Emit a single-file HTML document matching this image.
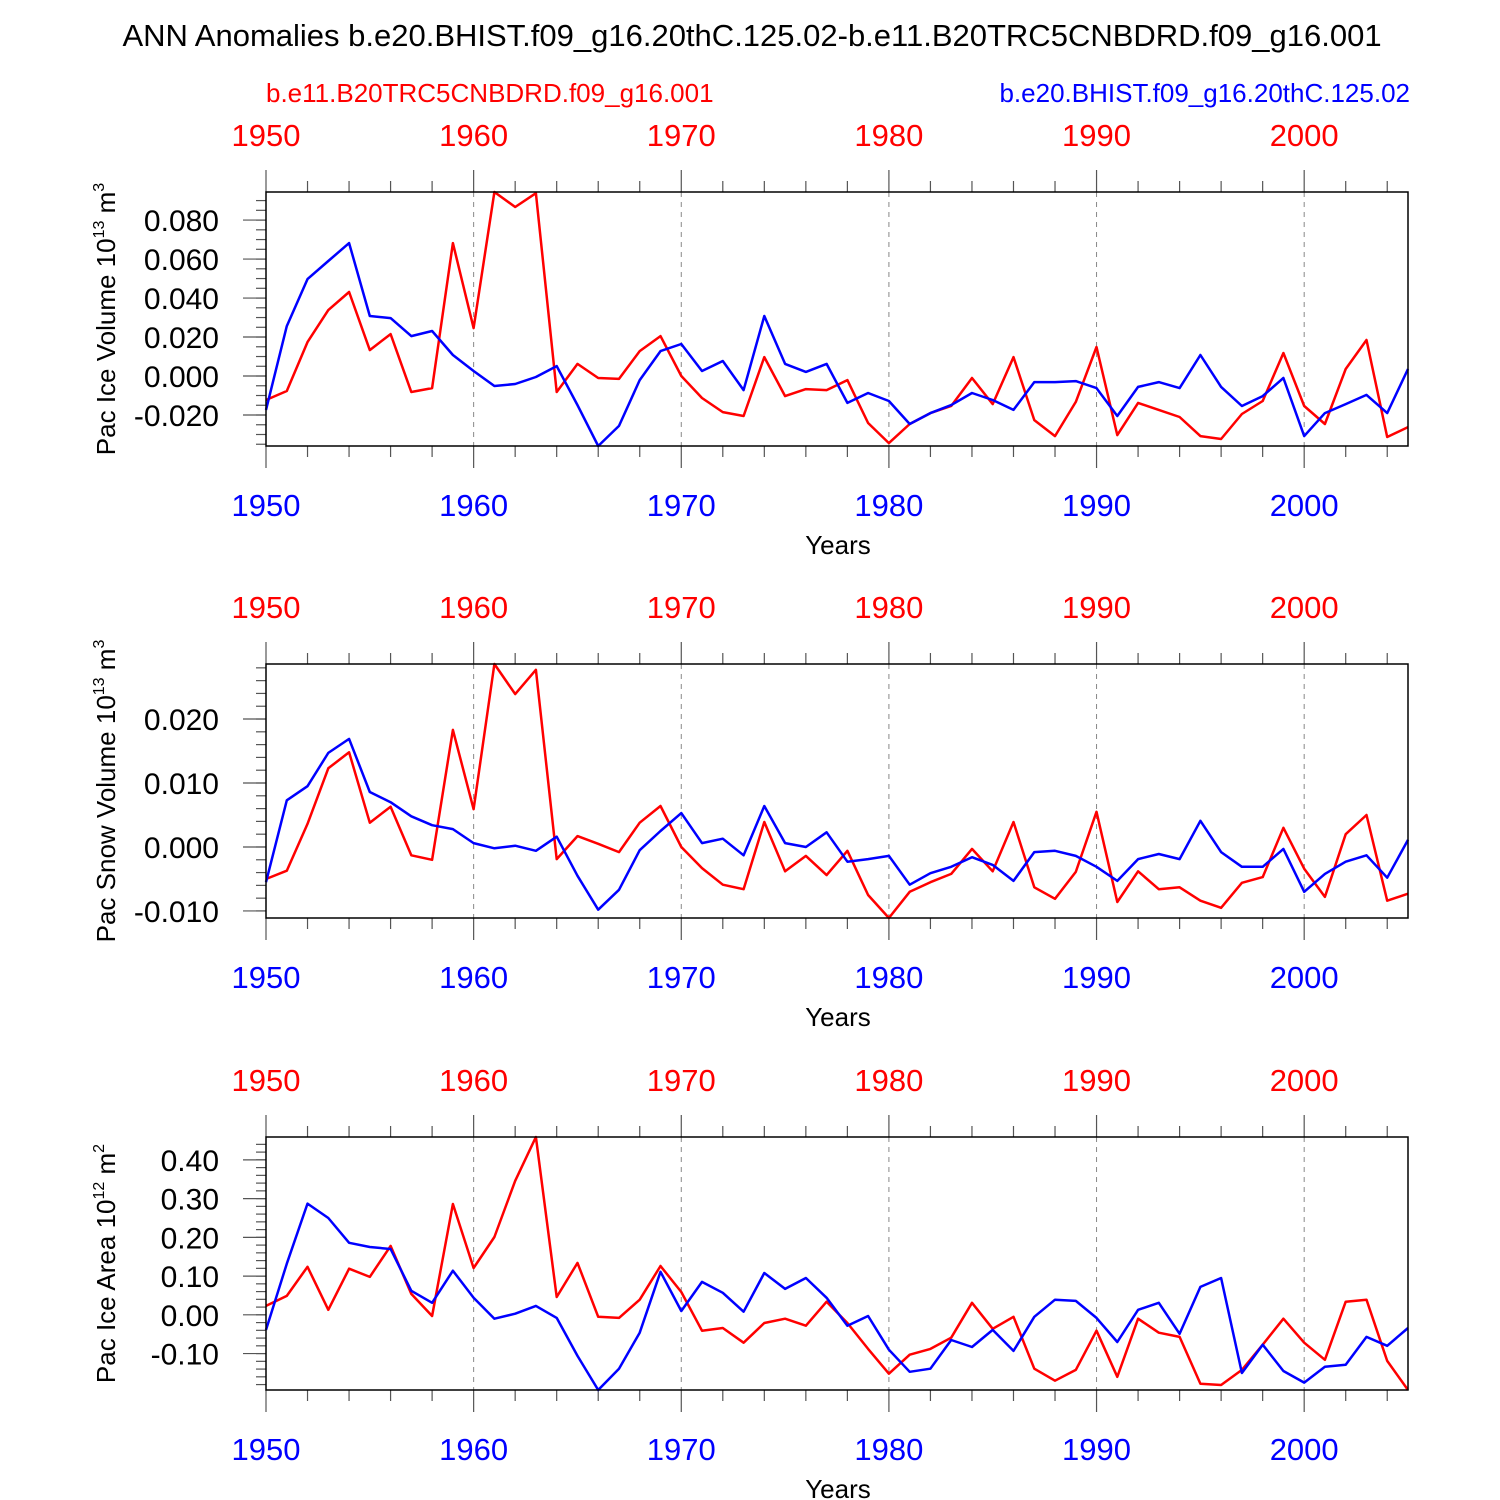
<!DOCTYPE html>
<html><head><meta charset="utf-8"><style>
html,body{margin:0;padding:0;background:#fff;}
svg{display:block;font-family:"Liberation Sans",sans-serif;}
</style></head><body>
<svg id="chart" width="1500" height="1500" viewBox="0 0 1500 1500" xmlns="http://www.w3.org/2000/svg">
<rect width="1500" height="1500" fill="#fff"/>
<text x="752" y="46" font-size="31" text-anchor="middle">ANN Anomalies b.e20.BHIST.f09_g16.20thC.125.02-b.e11.B20TRC5CNBDRD.f09_g16.001</text>
<text x="266" y="102" font-size="26" fill="#f00">b.e11.B20TRC5CNBDRD.f09_g16.001</text>
<text x="1410" y="102" font-size="26" fill="#00f" text-anchor="end">b.e20.BHIST.f09_g16.20thC.125.02</text>
<g id="panels"></g>
</svg>
<script>
const years = [];
for (let y = 1950; y <= 2005; y++) years.push(y);
const iceVolRed = [-0.0123,-0.0077,0.0174,0.0338,0.0431,0.0133,0.0215,-0.0082,-0.0062,0.0682,0.0246,0.0944,0.0867,0.0938,-0.0082,0.0062,-0.0010,-0.0015,0.0128,0.0205,0,-0.0113,-0.0185,-0.0205,0.0097,-0.0103,-0.0067,-0.0072,-0.0021,-0.0241,-0.0344,-0.0246,-0.0190,-0.0154,-0.0010,-0.0144,0.0097,-0.0226,-0.0308,-0.0133,0.0149,-0.0303,-0.0138,-0.0174,-0.0210,-0.0308,-0.0323,-0.0195,-0.0128,0.0118,-0.0154,-0.0246,0.0036,0.0185,-0.0313,-0.0262];
const iceVolBlue = [-0.0174,0.0256,0.0497,0.0590,0.0682,0.0308,0.0297,0.0205,0.0231,0.0108,0.0026,-0.0051,-0.0041,-0.0005,0.0051,-0.0149,-0.0359,-0.0256,-0.0021,0.0128,0.0164,0.0026,0.0077,-0.0072,0.0308,0.0062,0.0021,0.0062,-0.0138,-0.0087,-0.0128,-0.0246,-0.0190,-0.0149,-0.0087,-0.0123,-0.0174,-0.0031,-0.0031,-0.0026,-0.0062,-0.0205,-0.0056,-0.0031,-0.0062,0.0108,-0.0056,-0.0154,-0.0103,-0.0010,-0.0308,-0.0190,-0.0144,-0.0097,-0.0190,0.0036];
const snowVolRed = [-0.0050,-0.0037,0.0036,0.0123,0.0148,0.0038,0.0063,-0.0013,-0.0020,0.0183,0.0059,0.0286,0.0239,0.0277,-0.0019,0.0017,0.0005,-0.0008,0.0038,0.0064,0,-0.0033,-0.0059,-0.0066,0.0039,-0.0038,-0.0014,-0.0044,-0.0006,-0.0075,-0.0111,-0.0070,-0.0055,-0.0042,-0.0003,-0.0038,0.0039,-0.0063,-0.0081,-0.0039,0.0055,-0.0086,-0.0038,-0.0066,-0.0063,-0.0084,-0.0095,-0.0056,-0.0047,0.0030,-0.0034,-0.0078,0.0020,0.0050,-0.0084,-0.0073];
const snowVolBlue = [-0.0055,0.0073,0.0095,0.0147,0.0169,0.0086,0.0070,0.0048,0.0034,0.0028,0.0006,-0.0002,0.0002,-0.0006,0.0016,-0.0045,-0.0098,-0.0067,-0.0005,0.0025,0.0053,0.0006,0.0013,-0.0013,0.0064,0.0006,0,0.0023,-0.0023,-0.0019,-0.0014,-0.0059,-0.0041,-0.0031,-0.0016,-0.0028,-0.0053,-0.0008,-0.0006,-0.0014,-0.0031,-0.0053,-0.0019,-0.0011,-0.0019,0.0041,-0.0008,-0.0031,-0.0031,-0.0003,-0.0070,-0.0042,-0.0023,-0.0013,-0.0048,0.0011];
const iceAreaRed = [0.023,0.049,0.124,0.013,0.119,0.098,0.178,0.054,-0.003,0.286,0.121,0.201,0.346,0.459,0.046,0.134,-0.005,-0.008,0.039,0.126,0.059,-0.041,-0.034,-0.072,-0.021,-0.010,-0.028,0.034,-0.021,-0.088,-0.152,-0.103,-0.088,-0.059,0.031,-0.036,-0.005,-0.139,-0.170,-0.142,-0.041,-0.160,-0.010,-0.046,-0.057,-0.178,-0.181,-0.142,-0.077,-0.010,-0.072,-0.116,0.034,0.039,-0.119,-0.194];
const iceAreaBlue = [-0.039,0.132,0.287,0.250,0.186,0.175,0.170,0.062,0.031,0.114,0.044,-0.010,0.003,0.023,-0.008,-0.106,-0.194,-0.139,-0.046,0.111,0.010,0.085,0.057,0.008,0.108,0.067,0.095,0.044,-0.028,-0.003,-0.090,-0.147,-0.139,-0.065,-0.083,-0.039,-0.093,-0.005,0.039,0.036,-0.008,-0.070,0.013,0.031,-0.049,0.072,0.095,-0.150,-0.077,-0.145,-0.175,-0.134,-0.129,-0.057,-0.080,-0.034];
const xTickLabels = ["1950","1960","1970","1980","1990","2000"];
const iceVolTicks = ["-0.020","0.000","0.020","0.040","0.060","0.080"];
const snowVolTicks = ["-0.010","0.000","0.010","0.020"];
const iceAreaTicks = ["-0.10","0.00","0.10","0.20","0.30","0.40"];

const NS = "http://www.w3.org/2000/svg";
const X0 = 266, X1 = 1408;
const xScale = yr => X0 + (yr - 1950) / 55 * (X1 - X0);
function mk(tag, attrs, parent) {
  const e = document.createElementNS(NS, tag);
  for (const k in attrs) e.setAttribute(k, attrs[k]);
  parent.appendChild(e);
  return e;
}
const root = document.getElementById('panels');
const panels = [
  {name:'ice-volume', top:192, bot:446, min:-0.0359, max:0.0944, ticks:iceVolTicks, minor:0.005, red:iceVolRed, blue:iceVolBlue, title:'Pac Ice Volume 10', sup:'13', unit:'m', usup:'3'},
  {name:'snow-volume', top:664, bot:918, min:-0.0111, max:0.0286, ticks:snowVolTicks, minor:0.002, red:snowVolRed, blue:snowVolBlue, title:'Pac Snow Volume 10', sup:'13', unit:'m', usup:'3'},
  {name:'ice-area', top:1137, bot:1390, min:-0.194, max:0.459, ticks:iceAreaTicks, minor:0.02, red:iceAreaRed, blue:iceAreaBlue, title:'Pac Ice Area 10', sup:'12', unit:'m', usup:'2'}
];
panels.forEach(p => {
  const g = mk('g', {}, root);
  
  
  const yScale = v => p.bot - (v - p.min) / (p.max - p.min) * (p.bot - p.top);
  xTickLabels.forEach(t => {
    const yr = +t; if (yr === 1950) return;
    const l = mk('line', {x1:xScale(yr), x2:xScale(yr), y1:p.top, y2:p.bot, stroke:'#888', 'stroke-width':1, 'stroke-dasharray':'5,5'}, g);
    
    
  });
  years.forEach(yr => {
    if (yr % 2 !== 0) return;
    const major = yr % 10 === 0;
    const len = major ? 22 : 11;
    const x = xScale(yr);
    mk('line', {x1:x, x2:x, y1:p.top, y2:p.top - len, stroke:'#555', 'stroke-width':1.2}, g);
    mk('line', {x1:x, x2:x, y1:p.bot, y2:p.bot + len, stroke:'#555', 'stroke-width':1.2}, g);
  });
  xTickLabels.forEach(t => {
    const x = xScale(+t);
    const a = mk('text', {x:x, y:p.top - 46, 'font-size':31, fill:'#f00', 'text-anchor':'middle'}, g);
    a.textContent = t;
    
    
    const b = mk('text', {x:x, y:p.bot + 70, 'font-size':31, fill:'#00f', 'text-anchor':'middle'}, g);
    b.textContent = t;
    
    
  });
  const xt = mk('text', {x:838, y:p.bot + 108, 'font-size':26, 'text-anchor':'middle'}, g);
  xt.textContent = 'Years';
  
  
  const start = Math.ceil(p.min / p.minor - 1e-6);
  for (let k = start; k * p.minor <= p.max + 1e-9; k++) {
    const y = yScale(k * p.minor);
    mk('line', {x1:X0, x2:X0 - 10, y1:y, y2:y, stroke:'#555', 'stroke-width':1.2}, g);
  }
  p.ticks.forEach(t => {
    const y = yScale(+t);
    mk('line', {x1:X0, x2:X0 - 23, y1:y, y2:y, stroke:'#555', 'stroke-width':1.2}, g);
    const tx = mk('text', {x:219, y:y + 11, 'font-size':30, 'text-anchor':'end'}, g);
    tx.textContent = t;
    
    
  });
  const cy = (p.top + p.bot) / 2;
  const yt = mk('text', {x:0, y:0, 'font-size':26, 'text-anchor':'middle', transform:`translate(115,${cy}) rotate(-90)`}, g);
  
  
  const t1 = mk('tspan', {}, yt); t1.textContent = p.title;
  const t2 = mk('tspan', {dy:-11, 'font-size':16}, yt); t2.textContent = p.sup;
  const t3 = mk('tspan', {dy:11}, yt); t3.textContent = ' ' + p.unit;
  const t4 = mk('tspan', {dy:-11, 'font-size':16}, yt); t4.textContent = p.usup;
  [['red', p.red, '#f00'], ['blue', p.blue, '#00f']].forEach(([nm, arr, col]) => {
    const pts = arr.map((v, i) => xScale(years[i]).toFixed(1) + ',' + yScale(Math.max(p.min, Math.min(p.max, v))).toFixed(1)).join(' ');
    const pl = mk('polyline', {points:pts, fill:'none', stroke:col, 'stroke-width':2.5, 'stroke-linejoin':'round'}, g);
    
    
  });
  const fr = mk('rect', {x:X0, y:p.top, width:X1 - X0, height:p.bot - p.top, fill:'none', stroke:'#000', 'stroke-width':1.5}, g);
  
  
});
</script>
</body></html>
